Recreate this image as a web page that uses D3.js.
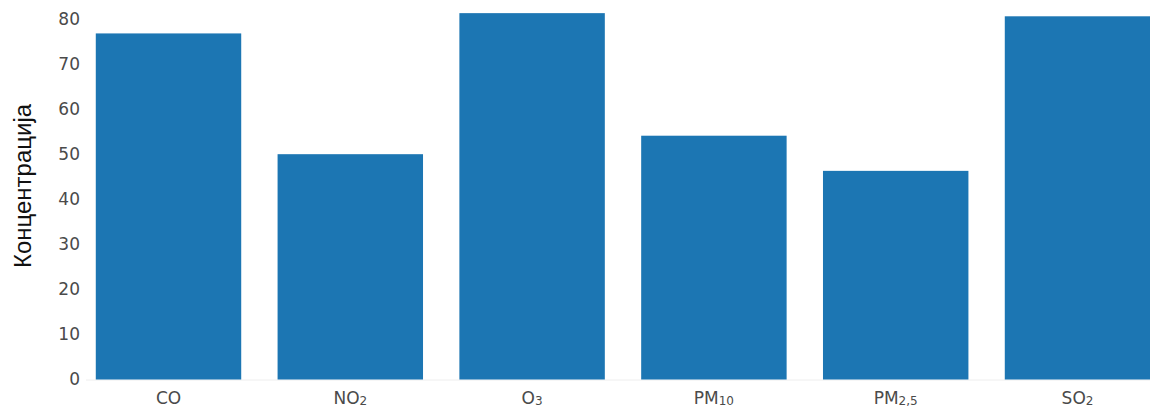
<!DOCTYPE html>
<html><head><meta charset="utf-8">
<script src="https://cdn.jsdelivr.net/npm/d3@7"></script>
<style>body{margin:0;background:#fff}svg{display:block}</style>
</head><body>
<svg id="c" width="1150" height="408"></svg>
<script>
const categories = ["CO","NO2","O3","PM10","PM2,5","SO2"];
const labelMain = ["CO","NO","O","PM","PM","SO"];
const labelSub  = ["","2","3","10","2,5","2"];
const values = [76.8, 50.0, 81.3, 54.1, 46.3, 80.6];
const yTicks = [0,10,20,30,40,50,60,70,80];
const yTitle = "Концентрација";

const svg = d3.select("#c");
const left = 77.6, step = 181.8;
const x = d3.scaleBand().domain(categories).range([left, left + step*categories.length]).paddingInner(0.2).paddingOuter(0.1);
const y = d3.scaleLinear().domain([0,80]).range([379.5, 19]);

// zero line
svg.append("line").attr("x1",86).attr("x2",1150).attr("y1",y(0)+0.5).attr("y2",y(0)+0.5)
  .attr("stroke","#eeeeee").attr("stroke-width",1);

svg.append("g").selectAll("rect").data(values).join("rect")
  .attr("x",(d,i)=>x(categories[i])).attr("width",x.bandwidth())
  .attr("y",d=>y(d)).attr("height",d=>y(0)-y(d))
  .attr("fill","#1c76b3");

const yAxis = svg.append("g").attr("transform","translate(86,0)")
  .call(d3.axisLeft(y).tickValues(yTicks).tickSize(0).tickPadding(6));
yAxis.select(".domain").remove();
yAxis.selectAll("text").attr("font-family","DejaVu Sans, Verdana, sans-serif").attr("font-size",17).attr("fill","#4a4a4a");

const xAxis = svg.append("g").attr("transform",`translate(0,${y(0)})`)
  .call(d3.axisBottom(x).tickSize(0).tickPadding(0).tickFormat(""));
xAxis.select(".domain").remove();
xAxis.selectAll(".tick").each(function(d){
  const i = categories.indexOf(d);
  const t = d3.select(this).append("text").attr("y",24)
    .attr("text-anchor","middle").attr("font-family","DejaVu Sans, Verdana, sans-serif")
    .attr("font-size",17).attr("fill","#4a4a4a");
  t.append("tspan").text(labelMain[i]);
  if (labelSub[i]) t.append("tspan").attr("font-size",12).attr("dy",1.5).text(labelSub[i]);
});

svg.append("text").attr("transform","translate(31,186) rotate(-90)")
  .attr("text-anchor","middle").attr("font-family","Liberation Sans, Arial, sans-serif")
  .attr("font-size",24).attr("fill","#111").text(yTitle);
</script>
</body></html>
